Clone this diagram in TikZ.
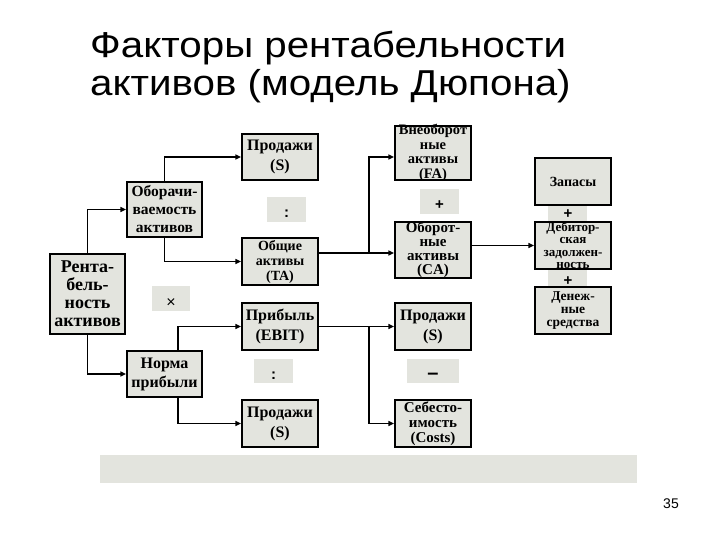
\documentclass[tikz,border=0pt]{standalone}
\usepackage{fontspec}
\setmainfont{Liberation Serif}
\newfontfamily\titlefont[FakeStretch=1.12]{Liberation Sans}
\newfontfamily\numfont{Liberation Sans}
\usetikzlibrary{arrows.meta}
\definecolor{boxgray}{RGB}{227,228,222}
\begin{document}
\begin{tikzpicture}[x=1pt,y=-1pt,
  box/.style={draw=black, line width=2.2pt, fill=boxgray, inner sep=0pt},
  txt/.style 2 args={align=center, inner sep=0pt, font=\fontsize{#1}{#2}\selectfont\bfseries},
  op/.style={fill=boxgray, inner sep=0pt},
  sign/.style={inner sep=0pt, font=\numfont\fontsize{#1}{#1}\selectfont\bfseries},
  arr/.style={line width=1.3pt, -{Triangle[length=5.5pt,width=5pt]}}]
\useasboundingbox (0,0) rectangle (720,540);
% title
\node[anchor=base west, inner sep=0pt, font=\titlefont\fontsize{36}{38}\selectfont] (t1) at (90,58) {Факторы рентабельности};
\node[anchor=base west, inner sep=0pt, font=\titlefont\fontsize{36}{38}\selectfont] (t2) at (90,96) {активов (модель Дюпона)};
% gray strip with pluses (right column)
\node[op, minimum width=39pt, minimum height=80pt] (strip) at (567.5,246) {};
\node[sign=15] (p1) at (568,214) {+};
\node[sign=15] (p2) at (568,281) {+};
% operator boxes
\node[op, minimum width=39pt, minimum height=25pt] (d1) at (286.5,209.5) {};
\node[sign=15] (d1s) at (286.5,214) {:};
\node[op, minimum width=39pt, minimum height=25pt] (pl) at (439.5,201.5) {};
\node[sign=15] (pls) at (439.5,205) {+};
\node[op, minimum width=38pt, minimum height=25pt] (mul) at (171,298.5) {};
\node[inner sep=0pt, font=\numfont\fontsize{16}{16}\selectfont] (muls) at (171,303) {×};
\node[op, minimum width=39pt, minimum height=24pt] (d2) at (273.5,371) {};
\node[sign=15] (d2s) at (273.5,375.5) {:};
\node[op, minimum width=52pt, minimum height=24pt] (mn) at (433,371) {};
\node[sign=20] (mns) at (433,376) {–};
% bottom bar and page number
\node[op, minimum width=537pt, minimum height=28pt] (bar) at (368.5,469) {};
\node[font=\numfont\fontsize{14}{14}\selectfont, inner sep=0pt] (pg) at (671,504) {35};
% boxes
\node[box, minimum width=75pt, minimum height=80pt] (R) at (87.5,294) {};
\node[txt={18}{18}] (Rt) at (R) {Рента-\\бель-\\ность\\активов};
\node[box, minimum width=75pt, minimum height=55pt] (Ob) at (164.5,209.5) {};
\node[txt={15.5}{18}] (Obt) at (Ob) {Оборачи-\\ваемость\\активов};
\node[box, minimum width=75pt, minimum height=46pt] (N) at (164.5,374) {};
\node[txt={16}{19}] (Nt) at (N) {Норма\\прибыли};
\node[box, minimum width=76pt, minimum height=46pt] (S1) at (280,157) {};
\node[txt={16}{20}] (S1t) at (S1) {Продажи\\(S)};
\node[box, minimum width=76pt, minimum height=47pt] (TA) at (280,261.5) {};
\node[txt={14}{15}] (TAt) at (TA) {Общие\\активы\\(TA)};
\node[box, minimum width=76pt, minimum height=47pt] (EBIT) at (280,326.5) {};
\node[txt={16}{20}] (EBITt) at (EBIT) {Прибыль\\(EBIT)};
\node[box, minimum width=76pt, minimum height=47pt] (S2) at (280,423.5) {};
\node[txt={16}{20}] (S2t) at (S2) {Продажи\\(S)};
\node[box, minimum width=76pt, minimum height=54pt] (FA) at (433,153) {};
\node[txt={14.5}{14.5}] (FAt) at (FA) {Внеоборот\\ные\\активы\\(FA)};
\node[box, minimum width=76pt, minimum height=56pt] (CA) at (433,250) {};
\node[txt={15}{14}] (CAt) at (CA) {Оборот-\\ные\\активы\\(CA)};
\node[box, minimum width=76pt, minimum height=47pt] (S3) at (433,326.5) {};
\node[txt={16}{20}] (S3t) at (S3) {Продажи\\(S)};
\node[box, minimum width=76pt, minimum height=47pt] (Co) at (433,423.5) {};
\node[txt={15}{15}] (Cot) at (Co) {Себесто-\\имость\\(Costs)};
\node[box, minimum width=76pt, minimum height=47pt] (Zp) at (573,181.5) {};
\node[txt={14}{14}] (Zpt) at (Zp) {Запасы};
\node[box, minimum width=76pt, minimum height=47pt] (Db) at (573,245.5) {};
\node[txt={13}{12.5}] (Dbt) at (Db) {Дебитор-\\ская\\задолжен-\\ность};
\node[box, minimum width=76pt, minimum height=47pt] (Dn) at (573,310.5) {};
\node[txt={13.5}{13}] (Dnt) at (Dn) {Денеж-\\ные\\средства};
% connectors
\draw[arr] (R.north) |- (Ob.west);
\draw[arr] (R.south) |- (N.west);
\draw[arr] (Ob.north) |- (S1.west);
\draw[arr] (Ob.south) |- (TA.west);
\draw[arr] ([xshift=13.5pt]N.north) |- (EBIT.west);
\draw[arr] ([xshift=13.5pt]N.south) |- (S2.west);
\coordinate (j1) at (369,253);
\draw[arr] (TA.east |- j1) -- (CA.west |- j1);
\draw[arr] (j1) |- ([yshift=-4pt]FA.west);
\draw[arr] (EBIT.east) -- (S3.west);
\coordinate (j2) at (369,326.5);
\draw[arr] (j2) |- (Co.west);
\draw[arr] (CA.east |- Db.west) -- (Db.west);
\end{tikzpicture}
\end{document}
